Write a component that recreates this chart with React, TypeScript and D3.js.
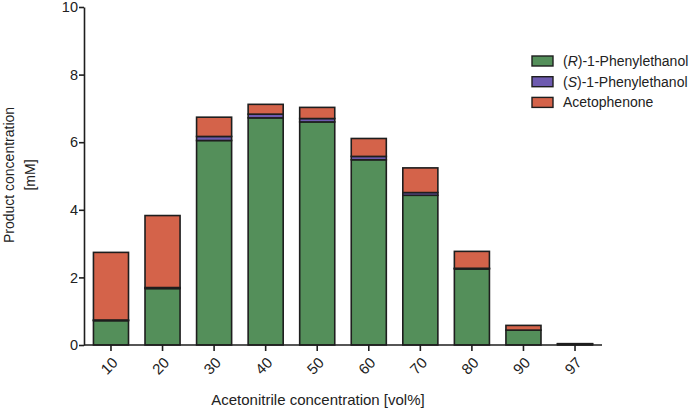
import React, { useEffect, useRef } from 'react';
import * as d3 from 'd3';

const categories = ['10', '20', '30', '40', '50', '60', '70', '80', '90', '97'];
const rPhenylethanol = [0.72, 1.67, 6.05, 6.72, 6.6, 5.48, 4.43, 2.25, 0.44, 0.03];
const sPhenylethanol = [0.02, 0.03, 0.12, 0.11, 0.1, 0.1, 0.08, 0.02, 0.0, 0.0];
const acetophenone = [2.0, 2.13, 0.57, 0.29, 0.33, 0.53, 0.73, 0.5, 0.14, 0.01];
const yTicks = [0, 2, 4, 6, 8, 10];

const seriesKeys = ['r', 's', 'a'];
const seriesColors = ['#548f5a', '#6e5bb0', '#d4634a'];

const FONT = '"Liberation Sans", Arial, sans-serif';

const App: React.FC = () => {
  const svgRef = useRef<SVGSVGElement>(null);

  useEffect(() => {
    if (!svgRef.current) return;
    const svg = d3.select(svgRef.current);
    svg.selectAll('*').remove();

    const table = categories.map((c, i) => ({
      cat: c,
      r: rPhenylethanol[i],
      s: sPhenylethanol[i],
      a: acetophenone[i],
    }));

    const x = d3.scaleBand<string>()
      .domain(categories)
      .range([85.2, 600.8])
      .paddingInner(0.32)
      .paddingOuter(0.16);

    const y = d3.scaleLinear()
      .domain([0, 10])
      .range([345, 7]);

    const stack = d3.stack<any>().keys(seriesKeys);
    const layers = stack(table);

    // bars
    const g = svg.append('g');
    layers.forEach((layer, li) => {
      g.append('g')
        .selectAll('rect')
        .data(layer)
        .join('rect')
        .attr('x', d => x(d.data.cat)!)
        .attr('width', x.bandwidth())
        .attr('y', d => y(d[1]))
        .attr('height', d => Math.max(0, y(d[0]) - y(d[1])))
        .attr('fill', seriesColors[li])
        .attr('stroke', '#1e1e1e')
        .attr('stroke-width', 1.6);
    });

    // y axis
    const yAxis = svg.append('g')
      .attr('transform', 'translate(84,0)')
      .call(d3.axisLeft(y).tickValues(yTicks).tickFormat(d3.format('d')).tickSize(5).tickSizeOuter(0));
    yAxis.select('.domain').attr('stroke', '#1e1e1e').attr('stroke-width', 1.6);
    yAxis.selectAll('.tick line').attr('stroke', '#1e1e1e').attr('stroke-width', 1.6);
    yAxis.selectAll('.tick text')
      .attr('font-family', FONT)
      .attr('font-size', 14.5)
      .attr('fill', '#222')
      .attr('x', -6);

    // x axis
    const xAxis = svg.append('g')
      .attr('transform', 'translate(0,345)')
      .call(d3.axisBottom(x).tickSize(6).tickSizeOuter(0));
    xAxis.select('.domain')
      .attr('d', 'M84,0H602')
      .attr('stroke', '#1e1e1e')
      .attr('stroke-width', 1.6);
    xAxis.selectAll('.tick line').attr('stroke', '#1e1e1e').attr('stroke-width', 1.6);
    xAxis.selectAll('.tick text')
      .attr('font-family', FONT)
      .attr('font-size', 15)
      .attr('fill', '#222')
      .attr('text-anchor', 'end')
      .attr('dy', '0.35em')
      .attr('y', 0)
      .attr('transform', 'translate(4,15) rotate(-45)');

    // axis titles
    svg.append('text')
      .attr('x', 318)
      .attr('y', 405)
      .attr('text-anchor', 'middle')
      .attr('font-family', FONT)
      .attr('font-size', 15)
      .attr('fill', '#222')
      .text('Acetonitrile concentration [vol%]');

    const yt = svg.append('text')
      .attr('transform', 'translate(0,175) rotate(-90)')
      .attr('text-anchor', 'middle')
      .attr('font-family', FONT)
      .attr('font-size', 14)
      .attr('fill', '#222');
    yt.append('tspan').attr('x', 0).attr('y', 14).text('Product concentration');
    yt.append('tspan').attr('x', 0).attr('y', 35).text('[mM]');

    // legend
    const legendItems = [
      { pre: '(', it: 'R', post: ')-1-Phenylethanol' },
      { pre: '(', it: 'S', post: ')-1-Phenylethanol' },
      { pre: '', it: '', post: 'Acetophenone' },
    ];
    const legend = svg.append('g').attr('transform', 'translate(532,56)');
    legendItems.forEach((item, i) => {
      const row = legend.append('g').attr('transform', `translate(0,${i * 20.7})`);
      row.append('rect')
        .attr('width', 21)
        .attr('height', 10)
        .attr('fill', seriesColors[i])
        .attr('stroke', '#1e1e1e')
        .attr('stroke-width', 1.4);
      const t = row.append('text')
        .attr('x', 31)
        .attr('y', 5)
        .attr('dy', '0.35em')
        .attr('font-family', FONT)
        .attr('font-size', 14)
        .attr('fill', '#222');
      if (item.pre) t.append('tspan').text(item.pre);
      if (item.it) t.append('tspan').attr('font-style', 'italic').text(item.it);
      t.append('tspan').text(item.post);
    });
  }, []);

  return (
    <svg
      ref={svgRef}
      width={699}
      height={411}
      style={{ position: 'absolute', left: 0, top: 0, background: '#fff' }}
    />
  );
};

export default App;
